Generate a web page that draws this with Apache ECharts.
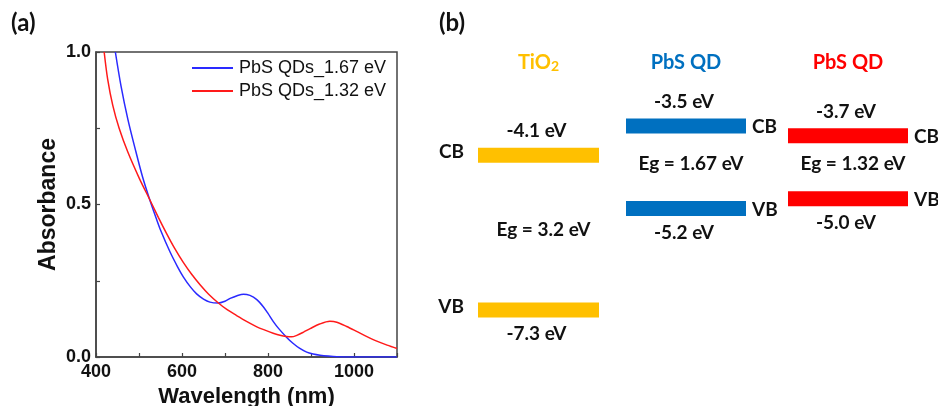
<!DOCTYPE html>
<html>
<head>
<meta charset="utf-8">
<script src="https://cdn.jsdelivr.net/npm/echarts@6/dist/echarts.min.js"></script>
<style>
  html, body { margin: 0; padding: 0; background: #fff; }
  #chart { width: 938px; height: 406px; }
</style>
</head>
<body>
<div id="chart"></div>
<script>
// ---- (a) absorption spectra ----
const blueWavelength = [445, 458, 474, 493, 508, 524, 540, 551, 572, 590, 603, 620, 634, 650, 665, 684, 700, 712, 728, 743, 758, 774, 789, 800, 812, 825, 843, 858, 874, 890, 905, 921, 940, 960, 1000, 1050, 1100];
const blueAbsorbance = [1.00, 0.89, 0.78, 0.672, 0.592, 0.52, 0.455, 0.413, 0.345, 0.295, 0.263, 0.229, 0.207, 0.19, 0.18, 0.177, 0.183, 0.192, 0.201, 0.206, 0.202, 0.188, 0.165, 0.143, 0.117, 0.093, 0.065, 0.045, 0.028, 0.016, 0.010, 0.006, 0.003, 0.001, 0, 0, 0];

const redWavelength = [419, 427, 439, 454, 474, 501, 524, 545, 563, 583, 603, 622, 642, 662, 684, 705, 727, 750, 774, 793, 812, 828, 843, 855, 867, 882, 898, 920, 944, 960, 983, 1006, 1030, 1053, 1077, 1100];
const redAbsorbance = [1.00, 0.912, 0.825, 0.749, 0.672, 0.585, 0.519, 0.458, 0.408, 0.356, 0.31, 0.272, 0.237, 0.206, 0.178, 0.155, 0.136, 0.117, 0.099, 0.088, 0.078, 0.071, 0.067, 0.066, 0.071, 0.081, 0.093, 0.108, 0.117, 0.114, 0.100, 0.084, 0.067, 0.052, 0.039, 0.028];

const seriesNames = ['PbS QDs_1.67 eV', 'PbS QDs_1.32 eV'];
const xLabelTicks = [400, 600, 800, 1000];
const yLabelTicks = [0, 0.5, 1.0];

// ---- (b) band alignment ----
const materials = ['TiO₂', 'PbS QD', 'PbS QD'];
const cbEnergy = [-4.1, -3.5, -3.7];
const vbEnergy = [-7.3, -5.2, -5.0];
const bandGap = [3.2, 1.67, 1.32];

const levelColors = ['#FFC000', '#0070C0', '#FF0000'];
const columnLayout = [
  { left: 478, width: 121, side: 'left' },
  { left: 626, width: 120, side: 'right' },
  { left: 788, width: 120, side: 'right' }
];
const bFont = 'Lato, "Open Sans", sans-serif';
const aFont = '"Liberation Sans", Arial, sans-serif';

function zip(xs, ys) { return xs.map((x, i) => [x, ys[i]]); }

const chart = echarts.init(document.getElementById('chart'), null, { renderer: 'canvas' });

const grids = [{
  left: 96, top: 52, width: 301, height: 305, outerBoundsMode: 'none', containLabel: false,
  show: true, borderColor: '#444', borderWidth: 1.5
}];
const xAxes = [{
  gridIndex: 0, type: 'value', min: 400, max: 1100, interval: 100,
  axisLine: { show: true, lineStyle: { color: '#444', width: 1.5 } },
  axisTick: { show: true, inside: true, length: 4, lineStyle: { color: '#444', width: 1.2 } },
  splitLine: { show: false },
  axisLabel: {
    margin: 6, color: '#111', fontFamily: aFont, fontWeight: 'bold', fontSize: 18,
    formatter: v => xLabelTicks.includes(v) ? String(v) : ''
  },
  name: 'Wavelength (nm)', nameLocation: 'middle', nameGap: 27,
  nameTextStyle: { color: '#111', fontFamily: aFont, fontWeight: 'bold', fontSize: 22 }
}];
const yAxes = [{
  gridIndex: 0, type: 'value', min: 0, max: 1, interval: 0.25,
  axisLine: { show: true, lineStyle: { color: '#444', width: 1.5 } },
  axisTick: { show: true, inside: true, length: 4, lineStyle: { color: '#444', width: 1.2 } },
  splitLine: { show: false },
  axisLabel: {
    margin: 5, color: '#111', fontFamily: aFont, fontWeight: 'bold', fontSize: 18,
    formatter: v => yLabelTicks.some(t => Math.abs(t - v) < 1e-9) ? v.toFixed(1) : ''
  },
  name: 'Absorbance', nameLocation: 'middle', nameGap: 36, nameRotate: 90,
  nameTextStyle: { color: '#111', fontFamily: aFont, fontWeight: 'bold', fontSize: 23 }
}];

const series = [
  {
    name: seriesNames[0], type: 'line', xAxisIndex: 0, yAxisIndex: 0,
    data: zip(blueWavelength, blueAbsorbance), symbol: 'none', smooth: 0.3,
    lineStyle: { color: '#2a2aff', width: 1.5 }, itemStyle: { color: '#2a2aff' }, clip: true
  },
  {
    name: seriesNames[1], type: 'line', xAxisIndex: 0, yAxisIndex: 0,
    data: zip(redWavelength, redAbsorbance), symbol: 'none', smooth: 0.3,
    lineStyle: { color: '#ff1a1a', width: 1.5 }, itemStyle: { color: '#ff1a1a' }, clip: true
  }
];

materials.forEach((m, i) => {
  const col = columnLayout[i];
  const g = i + 1;
  grids.push({ left: col.left, width: col.width, top: 77.7, bottom: 62.1, outerBoundsMode: 'none', containLabel: false });
  xAxes.push({
    gridIndex: g, type: 'category', data: [m], position: 'top',
    axisLine: { show: false }, axisTick: { show: false }, splitLine: { show: false },
    axisLabel: {
      margin: 4, interval: 0,
      formatter: v => v === 'TiO₂' ? '{t|TiO}{sub|2}' : '{t|' + v + '}',
      rich: {
        t: { fontFamily: bFont, fontWeight: 'bold', fontSize: 20, color: levelColors[i], lineHeight: 22 },
        sub: { fontFamily: bFont, fontWeight: 'bold', fontSize: 14, color: levelColors[i], lineHeight: 10, verticalAlign: 'bottom' }
      }
    }
  });
  yAxes.push({ gridIndex: g, type: 'value', min: -8, max: -2.5, show: false });

  const txt = (text, x, y, align) => ({
    type: 'text',
    style: { text, x, y, align, verticalAlign: 'middle', fill: '#111', fontFamily: bFont, fontWeight: 'bold', fontSize: 19 }
  });

  // conduction and valence band levels
  series.push({
    type: 'custom', xAxisIndex: g, yAxisIndex: g, silent: true,
    data: [[0, cbEnergy[i], 0], [0, vbEnergy[i], 1]],
    renderItem: (params, api) => {
      const c = api.coord([api.value(0), api.value(1)]);
      const w = api.size([1, 0])[0];
      const isVB = api.value(2) === 1;
      const h = 15;
      const x0 = c[0] - w / 2;
      const energy = api.value(1);
      const children = [
        { type: 'rect', shape: { x: x0, y: c[1] - h / 2, width: w, height: h }, style: { fill: levelColors[i] } },
        txt(energy.toFixed(1) + ' eV', c[0] - 2, c[1] + (isVB ? 24 : -24), 'center')
      ];
      const band = isVB ? 'VB' : 'CB';
      if (col.side === 'left') children.push(txt(band, x0 - 14, c[1] - 3, 'right'));
      else children.push(txt(band, x0 + w + 6, c[1] + 1, 'left'));
      return { type: 'group', children };
    }
  });

  // band gap annotation placed halfway between the two levels
  series.push({
    type: 'custom', xAxisIndex: g, yAxisIndex: g, silent: true,
    data: [[0, (cbEnergy[i] + vbEnergy[i]) / 2, bandGap[i]]],
    renderItem: (params, api) => {
      const c = api.coord([api.value(0), api.value(1)]);
      return txt('Eg = ' + api.value(2) + ' eV', c[0] + 5, c[1] - 3, 'center');
    }
  });
});

chart.setOption({
  animation: false,
  backgroundColor: '#fff',
  title: [
    { text: '(a)', left: 11, top: 11, padding: 0, textStyle: { fontFamily: bFont, fontWeight: 'bold', fontSize: 24, color: '#111' } },
    { text: '(b)', left: 439, top: 11, padding: 0, textStyle: { fontFamily: bFont, fontWeight: 'bold', fontSize: 24, color: '#111' } }
  ],
  legend: {
    data: seriesNames, orient: 'vertical', left: 192, top: 59, padding: 0,
    icon: 'rect', itemWidth: 41, itemHeight: 2, itemGap: 5,
    textStyle: { fontFamily: aFont, fontSize: 18, color: '#111', padding: [0, 0, 0, 1] },
    selectedMode: false
  },
  grid: grids,
  xAxis: xAxes,
  yAxis: yAxes,
  series
});
</script>
</body>
</html>
